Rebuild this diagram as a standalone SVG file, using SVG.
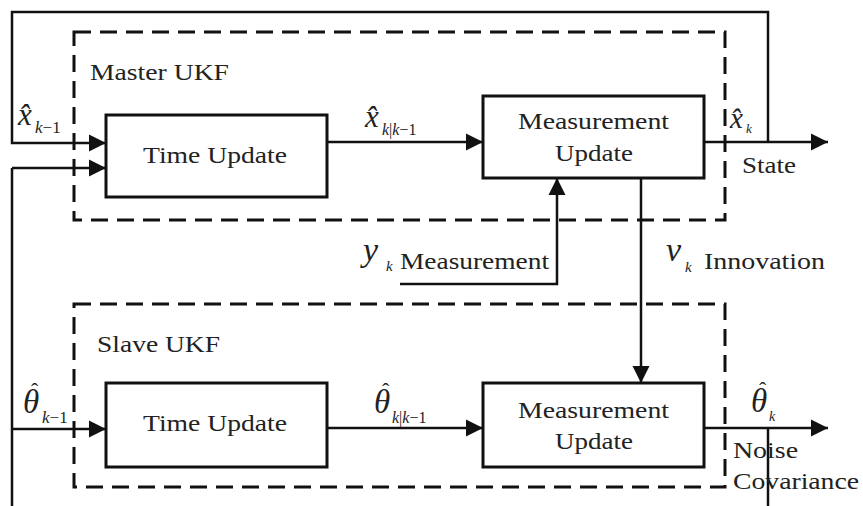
<svg xmlns="http://www.w3.org/2000/svg" width="863" height="506" viewBox="0 0 863 506">
  <defs>
    <marker id="arrow" markerUnits="userSpaceOnUse" viewBox="0 0 18 18" markerWidth="18" markerHeight="18" refX="17" refY="9" orient="auto">
      <path d="M0,0.5 L17,9 L0,17.5 z" fill="#111"/>
    </marker>
    <style>
      .box { fill: #fff; stroke: #111; stroke-width: 3; }
      .group { fill: none; stroke: #111; stroke-width: 3; stroke-dasharray: 17 9; }
      .wire { fill: none; stroke: #111; stroke-width: 2.5; }
      .arr { marker-end: url(#arrow); }
      text { font-family: "Liberation Serif", "Times New Roman", serif; fill: #222; }
      .lbl { font-size: 24px; }
      .m { font-style: italic; }
      .up { font-style: normal; }
    </style>
  </defs>
  <rect width="863" height="506" fill="#fff"/>

  <!-- filter group outlines -->
  <g id="master-ukf">
    <rect class="group" x="74" y="32" width="651" height="188"/>
    <text class="lbl" x="90" y="80" textLength="139" lengthAdjust="spacingAndGlyphs">Master UKF</text>
  </g>
  <g id="slave-ukf">
    <rect class="group" x="74" y="304" width="651" height="183"/>
    <text class="lbl" x="97" y="352" textLength="123" lengthAdjust="spacingAndGlyphs">Slave UKF</text>
  </g>

  <!-- connectors -->
  <g id="connectors">
    <!-- state feedback loop -->
    <polyline class="wire arr" points="768,142 768,12 12,12 12,143 106,143"/>
    <line class="wire arr" x1="12" y1="168" x2="106" y2="168"/>
    <line class="wire" x1="12" y1="168" x2="12" y2="506"/>
    <line class="wire arr" x1="12" y1="429" x2="106" y2="429"/>
    <!-- master chain -->
    <line class="wire arr" x1="327" y1="142" x2="483" y2="142"/>
    <line class="wire arr" x1="704" y1="142" x2="828" y2="142"/>
    <!-- measurement input -->
    <polyline class="wire arr" points="400,284 557,284 557,178"/>
    <!-- innovation -->
    <line class="wire arr" x1="641" y1="178" x2="641" y2="383"/>
    <!-- slave chain -->
    <line class="wire arr" x1="327" y1="428" x2="483" y2="428"/>
    <line class="wire arr" x1="704" y1="428" x2="828" y2="428"/>
    <line class="wire" x1="768" y1="428" x2="768" y2="506"/>
  </g>

  <!-- blocks -->
  <g id="master-time-update">
    <rect class="box" x="106" y="115" width="221" height="82"/>
    <text class="lbl" x="143" y="163" textLength="144" lengthAdjust="spacingAndGlyphs">Time Update</text>
  </g>
  <g id="master-measurement-update">
    <rect class="box" x="483" y="96" width="221" height="82"/>
    <text class="lbl" x="518" y="129" textLength="151" lengthAdjust="spacingAndGlyphs">Measurement</text>
    <text class="lbl" x="555" y="161" textLength="78" lengthAdjust="spacingAndGlyphs">Update</text>
  </g>
  <g id="slave-time-update">
    <rect class="box" x="106" y="383" width="221" height="84"/>
    <text class="lbl" x="143" y="431" textLength="144" lengthAdjust="spacingAndGlyphs">Time Update</text>
  </g>
  <g id="slave-measurement-update">
    <rect class="box" x="483" y="383" width="221" height="84"/>
    <text class="lbl" x="518" y="418" textLength="151" lengthAdjust="spacingAndGlyphs">Measurement</text>
    <text class="lbl" x="555" y="449" textLength="78" lengthAdjust="spacingAndGlyphs">Update</text>
  </g>

  <!-- signal labels: hatted symbols with subscripts -->
  <g id="labels">
    <text class="m" font-size="31"><tspan x="18" y="125">x̂</tspan><tspan x="35" y="133" font-size="17">k</tspan><tspan class="up" font-size="17">−1</tspan></text>
    <text class="m" font-size="31"><tspan x="365" y="127">x̂</tspan><tspan x="382" y="135" font-size="16">k</tspan><tspan class="up" font-size="16">|</tspan><tspan font-size="16">k</tspan><tspan class="up" font-size="16">−1</tspan></text>
    <text class="m" font-size="29"><tspan x="730" y="128">x̂</tspan><tspan x="746" y="133" font-size="13">k</tspan></text>
    <text class="lbl" x="742" y="173" textLength="54" lengthAdjust="spacingAndGlyphs">State</text>

    <text class="m" font-size="34"><tspan x="363" y="261">y</tspan><tspan x="386" y="271" font-size="15">k</tspan></text>
    <text class="lbl" x="400" y="269" textLength="149" lengthAdjust="spacingAndGlyphs">Measurement</text>
    <text class="m" font-size="34"><tspan x="666" y="261">v</tspan><tspan x="685" y="272" font-size="15">k</tspan></text>
    <text class="lbl" x="704" y="269" textLength="121" lengthAdjust="spacingAndGlyphs">Innovation</text>

    <!-- theta symbols carry a separately placed circumflex -->
    <text class="m" font-size="33"><tspan x="23" y="413">θ</tspan><tspan class="up" x="31" y="398" font-size="22">ˆ</tspan><tspan x="42" y="423" font-size="17">k</tspan><tspan class="up" font-size="17">−1</tspan></text>
    <text class="m" font-size="33"><tspan x="374" y="413">θ</tspan><tspan class="up" x="382" y="398" font-size="22">ˆ</tspan><tspan x="392" y="423" font-size="16">k</tspan><tspan class="up" font-size="16">|</tspan><tspan font-size="16">k</tspan><tspan class="up" font-size="16">−1</tspan></text>
    <text class="m" font-size="33"><tspan x="751" y="412">θ</tspan><tspan class="up" x="759" y="397" font-size="22">ˆ</tspan><tspan x="769" y="421" font-size="14">k</tspan></text>
    <text class="lbl" x="733" y="458" textLength="65" lengthAdjust="spacingAndGlyphs">Noise</text>
    <text class="lbl" x="733" y="489" textLength="126" lengthAdjust="spacingAndGlyphs">Covariance</text>
  </g>
</svg>
